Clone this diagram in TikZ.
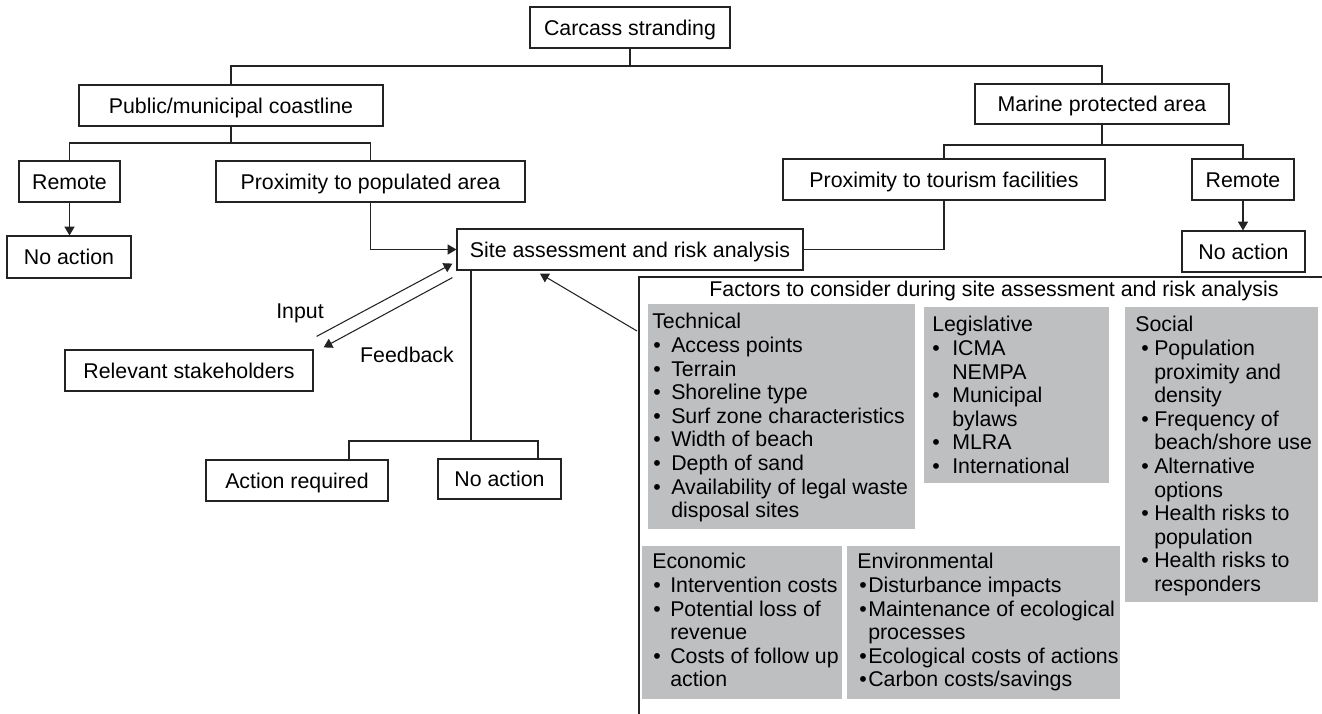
\documentclass[tikz,border=0pt]{standalone}
\usepackage{fontspec}
\setmainfont{Liberation Sans}
\usetikzlibrary{arrows.meta}
\newdimen\PX \PX=0.75pt
\definecolor{boxgray}{RGB}{190,191,193}
\definecolor{ink}{RGB}{35,35,35}
\newcommand\bul[3]{\makebox[#2\PX][l]{\hspace*{#1\PX}•}#3}
\newcommand\cnt[2]{\hspace*{#1\PX}#2}
\newcommand\mybox[6]{\node[box,minimum width=#4*0.75pt,minimum height=#5*0.75pt] (#1) at (#2,#3) {#6};}
\begin{document}
\begin{tikzpicture}[x=0.75pt,y=-0.75pt,
  font=\fontsize{16}{17.7}\selectfont,
  box/.style={draw=ink, line width=0.9pt, inner sep=0pt, text height=14.4pt, text depth=2.94pt},
  gbox/.style={fill=boxgray, inner sep=0pt, anchor=north west},
  gtext/.style={anchor=north west, inner sep=0pt, align=left},
  con/.style={draw=ink, line width=0.8pt},
  arr/.style={con, -{Triangle[length=6.5pt,width=7.5pt]}},
  lbl/.style={inner sep=0pt, text height=14.4pt, text depth=2.94pt}]
\useasboundingbox (0,0) rectangle (1322,714);

% main boxes
\mybox{carcass}{630}{27.5}{200}{41}{Carcass stranding}
\mybox{public}{231}{105.5}{304}{41}{Public/municipal coastline}
\mybox{marine}{1102}{104}{254}{40}{Marine protected area}
\mybox{remoteL}{69.5}{181.5}{101}{41}{Remote}
\mybox{popul}{370.5}{181.5}{309}{41}{Proximity to populated area}
\mybox{tour}{944}{179.5}{322}{41}{Proximity to tourism facilities}
\mybox{remoteR}{1243}{179.5}{102}{41}{Remote}
\mybox{noactL}{69}{257}{124}{42}{No action}
\mybox{site}{630}{249.5}{346}{41}{Site assessment and risk analysis}
\mybox{noactR}{1243.5}{251.5}{123}{41}{No action}
\mybox{stake}{189}{370.5}{248}{41}{Relevant stakeholders}
\mybox{actreq}{297}{480.5}{182}{41}{Action required}
\mybox{noactM}{499.5}{479}{123}{40}{No action}

% tree connectors
\coordinate (j0) at (630,66);
\draw[con] (carcass.south) -- (j0);
\draw[con] (public.north) |- (j0) -| (marine.north);
\coordinate (j1) at (231,143);
\draw[con] (public.south) -- (j1);
\draw[con] (remoteL.north) |- (j1) -| (popul.north);
\coordinate (j2) at (1102,145);
\draw[con] (marine.south) -- (j2);
\draw[con] (tour.north) |- (j2) -| (remoteR.north);
\draw[arr] (remoteL.south) -- (remoteL.south |- noactL.north);
\draw[arr] (remoteR.south) -- (remoteR.south |- noactR.north);
\draw[arr] (popul.south) |- (site.west);
\draw[con] (tour.south) |- (site.east);
\coordinate (j3) at (471,441);
\coordinate (jA) at (349,441);
\coordinate (jB) at (538,441);
\draw[con] (j3 |- site.south) -- (j3);
\draw[con] (jA |- actreq.north) -- (jA) -- (jB) -- (jB |- noactM.north);

% input / feedback
\coordinate (inA) at ([shift={(3,-13)}]stake.north east);
\coordinate (inB) at ([shift={(-4,-7)}]site.south west);
\coordinate (fbA) at ([shift={(-4,7)}]site.south west);
\coordinate (fbB) at ([shift={(10,-2)}]stake.north east);
\draw[arr] (inA) -- (inB);
\draw[arr] (fbA) -- (fbB);
\node[lbl] (input) at (300,311) {Input};
\node[lbl] (feedback) at (407,355) {Feedback};

% factors frame
\coordinate (frTR) at (1322,277);
\coordinate (frTL) at (639,277);
\coordinate (frBL) at (639,714);
\draw[con] (frTR) -- (frTL) -- (frBL);
\coordinate (fA) at (637,331);
\coordinate (fB) at ([shift={(-90,3)}]site.south);
\draw[arr] (fA) -- (fB);
\node[lbl] (ftitle) at (994,289) {Factors to consider during site assessment and risk analysis};

% grey boxes
\node[gbox, minimum width=267*0.75pt, minimum height=225*0.75pt] (tech) at (648,304) {};
\node[gbox, minimum width=185*0.75pt, minimum height=176*0.75pt] (legis) at (924,307) {};
\node[gbox, minimum width=193*0.75pt, minimum height=295*0.75pt] (social) at (1125,307) {};
\node[gbox, minimum width=200*0.75pt, minimum height=153*0.75pt] (econ) at (642,546) {};
\node[gbox, minimum width=273*0.75pt, minimum height=153*0.75pt] (env) at (847,546) {};

\node[gtext] (techT) at (652,313.2) {Technical\\
\bul{1}{19}{Access points}\\
\bul{1}{19}{Terrain}\\
\bul{1}{19}{Shoreline type}\\
\bul{1}{19}{Surf zone characteristics}\\
\bul{1}{19}{Width of beach}\\
\bul{1}{19}{Depth of sand}\\
\bul{1}{19}{Availability of legal waste}\\
\cnt{19}{disposal sites}};

\node[gtext] (legisT) at (932,316.2) {Legislative\\
\bul{0}{20}{ICMA}\\
\cnt{20}{NEMPA}\\
\bul{0}{20}{Municipal}\\
\cnt{20}{bylaws}\\
\bul{0}{20}{MLRA}\\
\bul{0}{20}{International}};

\node[gtext] (socialT) at (1135,316.2) {Social\\
\bul{6}{19}{Population}\\
\cnt{19}{proximity and}\\
\cnt{19}{density}\\
\bul{6}{19}{Frequency of}\\
\cnt{19}{beach/shore use}\\
\bul{6}{19}{Alternative}\\
\cnt{19}{options}\\
\bul{6}{19}{Health risks to}\\
\cnt{19}{population}\\
\bul{6}{19}{Health risks to}\\
\cnt{19}{responders}};

\node[gtext] (econT) at (652,553.2) {Economic\\
\bul{1}{18}{Intervention costs}\\
\bul{1}{18}{Potential loss of}\\
\cnt{18}{revenue}\\
\bul{1}{18}{Costs of follow up}\\
\cnt{18}{action}};

\node[gtext] (envT) at (857,553.2) {Environmental\\
\bul{2}{11}{Disturbance impacts}\\
\bul{2}{11}{Maintenance of ecological}\\
\cnt{11}{processes}\\
\bul{2}{11}{Ecological costs of actions}\\
\bul{2}{11}{Carbon costs/savings}};
\end{tikzpicture}
\end{document}
